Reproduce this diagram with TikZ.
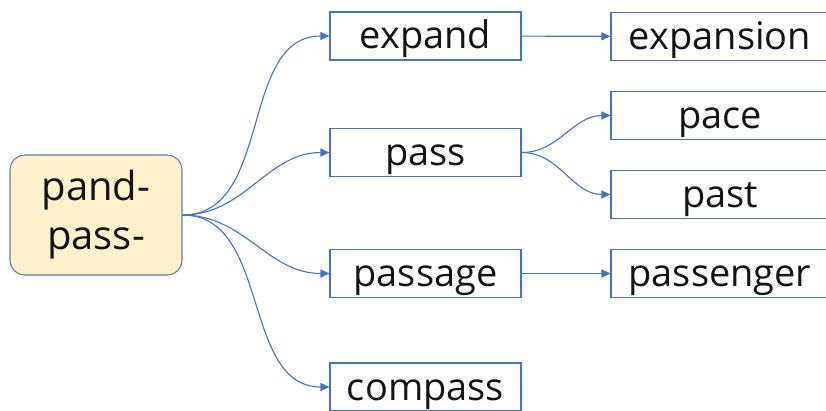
\documentclass[tikz,border=0pt]{standalone}
\usepackage{fontspec}
\setmainfont{Open Sans}
\usepackage{tikz}
\usetikzlibrary{arrows.meta,positioning}
\usepackage{xcolor}
\definecolor{mapblue}{RGB}{68,114,196}
\definecolor{rootedge}{RGB}{91,125,177}
\definecolor{rootfill}{RGB}{253,240,203}
\definecolor{inkgray}{RGB}{20,20,20}

\begin{document}
\begin{tikzpicture}[x=1pt, y=1pt,
    word/.style={rectangle, draw=mapblue, line width=1.1pt, inner sep=0pt,
                 minimum width=191pt, minimum height=48pt, text height=28pt, text depth=2pt,
                 text=inkgray, font=\fontsize{38}{44}\selectfont},
    rootbox/.style={rectangle, draw=rootedge, fill=rootfill, rounded corners=15pt, line width=1.1pt,
                 minimum width=172pt, minimum height=120pt, inner sep=0pt, align=center,
                 text=inkgray, font=\fontsize{40}{49}\selectfont},
    arr/.style={-{Triangle[length=9pt,width=8pt]}, line width=1.1pt, mapblue}
]
    \useasboundingbox (0,0) rectangle (826,410);
    \clip (0,0) rectangle (826,410);

    % root and first level
    \node[rootbox] (root) at (96,195) {pand-\\pass-};
    \node[word] (expand) at (425.5,374) {expand};
    \node[word] (pass) at (425.5,257.5) {pass};
    \node[word] (passage) at (425.5,136.5) {passage};
    \node[word] (compass) at (425.5,23) {compass};

    % second level
    \node[word, minimum width=218pt] (expansion) at (720,373.5) {expansion};
    \node[word, minimum width=218pt] (pace) at (720,294.5) {pace};
    \node[word, minimum width=218pt] (past) at (720,215.5) {past};
    \node[word, minimum width=218pt] (passenger) at (720,136.5) {passenger};

    \draw[arr] (root.east) to[out=0, in=180] (expand.west);
    \draw[arr] (root.east) to[out=0, in=180] (pass.west);
    \draw[arr] (root.east) to[out=0, in=180] (passage.west);
    \draw[arr] (root.east) to[out=0, in=180] (compass.west);

    \draw[arr] (expand) -- (expansion);
    \draw[arr] (pass.east) to[out=0, in=180] (pace.west);
    \draw[arr] (pass.east) to[out=0, in=180] (past.west);
    \draw[arr] (passage) -- (passenger);
\end{tikzpicture}
\end{document}
